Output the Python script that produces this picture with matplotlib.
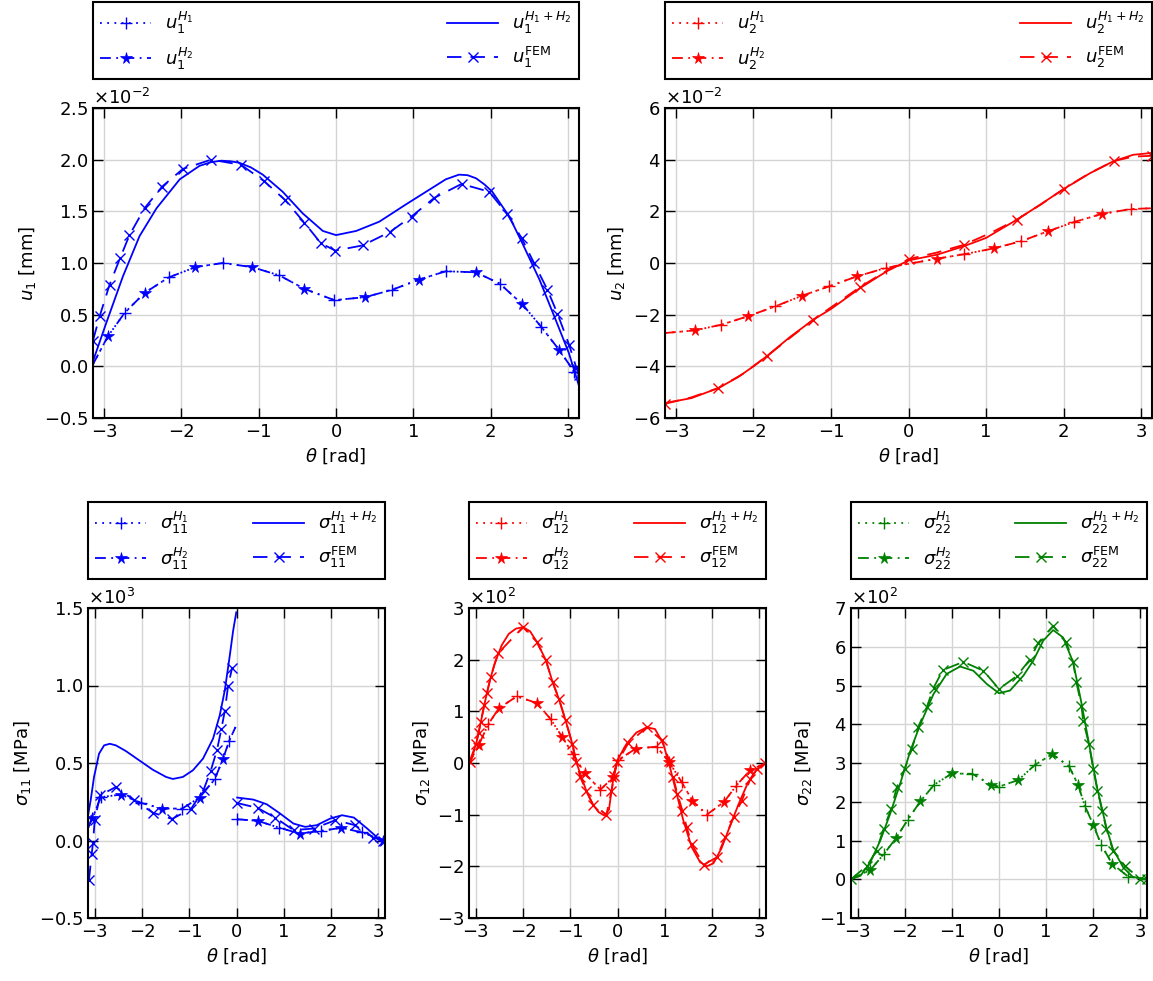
import numpy as np
import matplotlib
matplotlib.use("Agg")
import matplotlib.pyplot as plt
from matplotlib.ticker import ScalarFormatter, MultipleLocator

plt.rcParams['font.family'] = ['DejaVu Sans']
plt.rcParams['mathtext.fontset'] = 'dejavusans'

NAN = np.nan

# ---------------- u1 (x1e-2 mm) ----------------
u1_theta_h = [-3.1416, -2.95, -2.73, -2.475, -2.165, -1.817, -1.464, -1.085, -0.732, -0.409, -0.02,
              0.379, 0.723, 1.076, 1.42, 1.808, 2.118, 2.41, 2.656, 2.884, 3.078, 3.1416]
u1_h1 = [0.02, 0.29, 0.52, 0.71, 0.86, 0.96, 1.0, 0.96, 0.88, 0.75, 0.64,
         0.67, 0.74, 0.84, 0.92, 0.91, 0.80, 0.60, 0.38, 0.16, -0.05, -0.10]
u1_h2 = [0.02, 0.29, 0.52, 0.71, 0.86, 0.96, 1.0, 0.96, 0.88, 0.75, 0.64,
         0.67, 0.74, 0.84, 0.92, 0.91, 0.80, 0.60, 0.38, 0.16, -0.05, -0.10]
u1_theta_s = [-3.1416, -2.97, -2.755, -2.54, -2.32, -2.02, -1.765, -1.62, -1.485, -1.37, -1.25, -1.1,
              -0.947, -0.69, -0.43, -0.17, 0.0, 0.26, 0.56, 0.90, 1.25, 1.42, 1.59, 1.70, 1.81, 1.92,
              2.02, 2.24, 2.41, 2.63, 2.84, 3.01, 3.1416]
u1_sum = [0.05, 0.42, 0.87, 1.26, 1.53, 1.81, 1.94, 1.975, 1.99, 1.985, 1.97, 1.925,
          1.855, 1.69, 1.48, 1.31, 1.27, 1.31, 1.40, 1.565, 1.73, 1.81, 1.855, 1.85, 1.82, 1.76,
          1.69, 1.45, 1.19, 0.84, 0.45, 0.13, -0.19]
u1_theta_f = [-3.1416, -3.056, -2.927, -2.79, -2.67, -2.475, -2.247, -1.98, -1.614, -1.227, -0.926,
              -0.659, -0.409, -0.194, -0.009, 0.344, 0.697, 0.977, 1.27, 1.623, 1.98, 2.217, 2.40,
              2.56, 2.734, 2.863, 3.013, 3.108, 3.1416]
u1_fem = [0.25, 0.484, 0.79, 1.05, 1.27, 1.53, 1.74, 1.91, 2.0, 1.95, 1.79,
          1.61, 1.39, 1.19, 1.12, 1.17, 1.30, 1.45, 1.63, 1.765, 1.69, 1.47, 1.24,
          1.0, 0.74, 0.51, 0.21, -0.016, -0.08]

# ---------------- u2 (x1e-2 mm) ----------------
u2_theta_h = [-3.1416, -2.76, -2.417, -2.07, -1.72, -1.368, -1.02, -0.667, -0.29,
              0.374, 0.718, 1.105, 1.45, 1.80, 2.14, 2.495, 2.873, 3.1416]
u2_h1 = [-2.71, -2.61, -2.39, -2.06, -1.68, -1.26, -0.90, -0.52, -0.19,
         0.17, 0.34, 0.57, 0.84, 1.23, 1.59, 1.90, 2.09, 2.12]
u2_h2 = [-2.71, -2.61, -2.39, -2.06, -1.68, -1.26, -0.90, -0.52, -0.19,
         0.17, 0.34, 0.57, 0.84, 1.23, 1.59, 1.90, 2.09, 2.12]
u2_theta_s = [-3.1416, -2.8, -2.452, -2.2, -2.0, -1.83, -1.527, -1.226, -1.0, -0.624, -0.28, 0.0,
              0.366, 0.71, 1.0, 1.4, 1.7, 2.0, 2.344, 2.645, 2.90, 3.1416]
u2_sum = [-5.42, -5.23, -4.84, -4.42, -4.0, -3.61, -2.86, -2.19, -1.78, -0.97, -0.32, 0.1,
          0.32, 0.645, 0.97, 1.68, 2.26, 2.86, 3.48, 3.94, 4.19, 4.26]
u2_theta_f = [-3.1416, -2.8, -2.452, -2.14, -1.828, -1.53, -1.226, -0.92, -0.624, -0.31, 0.0,
              0.36, 0.71, 1.05, 1.398, 1.70, 2.0, 2.32, 2.645, 2.9, 3.1416]
u2_fem = [-5.45, -5.2, -4.84, -4.3, -3.61, -2.9, -2.19, -1.55, -0.93, -0.35, 0.15,
          0.40, 0.70, 1.15, 1.68, 2.25, 2.86, 3.45, 3.94, 4.12, 4.15]

# ---------------- sigma11 (x1e3 MPa) ----------------
s11_theta_h = [-3.1416, -3.05, -2.87, -2.447, -2.02, -1.58, -1.149, -0.78, -0.461, -0.284, -0.156, -0.021,
               0.0, 0.014, 0.447, 0.908, 1.333, 1.794, 2.213, 2.66, 3.1, 3.1416]
s11_h1 = [0.08, 0.142, 0.28, 0.296, 0.243, 0.206, 0.206, 0.277, 0.395, 0.528, 0.642, 0.732,
          NAN, 0.137, 0.127, 0.082, 0.045, 0.062, 0.082, 0.052, 0.0, 0.0]
s11_h2 = [0.08, 0.142, 0.28, 0.296, 0.243, 0.206, 0.206, 0.277, 0.395, 0.528, 0.642, 0.732,
          NAN, 0.137, 0.127, 0.082, 0.045, 0.062, 0.082, 0.052, 0.0, 0.0]
s11_theta_s = [-3.1416, -3.085, -3.014, -2.908, -2.80, -2.68, -2.553, -2.34, -2.057, -1.773, -1.49,
               -1.348, -1.135, -0.922, -0.709, -0.496, -0.355, -0.248, -0.142, -0.071, -0.005,
               0.0, 0.014, 0.355, 0.638, 0.922, 1.206, 1.454, 1.70, 1.986, 2.234, 2.482, 2.766, 2.979, 3.1416]
s11_sum = [0.16, 0.26, 0.41, 0.56, 0.614, 0.624, 0.614, 0.577, 0.517, 0.457, 0.41,
           0.397, 0.41, 0.453, 0.528, 0.657, 0.807, 0.968, 1.193, 1.354, 1.472,
           NAN, 0.277, 0.264, 0.234, 0.174, 0.109, 0.088, 0.099, 0.142, 0.163, 0.148, 0.077, 0.019, 0.0]
s11_theta_f = [-3.121, -3.064, -3.035, -3.0, -2.886, -2.553, -2.163, -1.773, -1.362, -0.957, -0.695,
               -0.546, -0.411, -0.319, -0.248, -0.177, -0.092, 0.0, 0.014, 0.447, 0.816, 1.206,
               1.631, 2.092, 2.504, 2.894, 3.106]
s11_fem = [-0.255, -0.088, -0.013, 0.131, 0.292, 0.345, 0.26, 0.18, 0.139, 0.206, 0.328,
           0.449, 0.586, 0.721, 0.835, 1.0, 1.114, NAN, 0.242, 0.21, 0.148, 0.067,
           0.077, 0.131, 0.099, 0.019, 0.0]

# ---------------- sigma12 (x1e2 MPa) ----------------
s12_theta_h = [-3.1416, -2.94, -2.73, -2.51, -2.13, -1.706, -1.415, -1.168, -0.94, -0.694, -0.36, -0.092,
               0.0, 0.39, 0.828, 1.097, 1.36, 1.585, 1.89, 2.258, 2.51, 2.81, 3.1416]
s12_h1 = [0.0, 0.34, 0.755, 1.06, 1.29, 1.16, 0.85, 0.50, 0.17, -0.2, -0.516, -0.277,
          0.05, 0.28, 0.316, 0.013, -0.374, -0.73, -1.0, -0.75, -0.44, -0.135, 0.0]
s12_h2 = [0.0, 0.34, 0.755, 1.06, 1.29, 1.16, 0.85, 0.50, 0.17, -0.2, -0.516, -0.277,
          0.05, 0.28, 0.316, 0.013, -0.374, -0.73, -1.0, -0.75, -0.44, -0.135, 0.0]
s12_theta_s = [-3.1416, -2.99, -2.89, -2.80, -2.70, -2.60, -2.45, -2.30, -2.15, -2.0, -1.85, -1.71,
               -1.52, -1.37, -1.24, -1.10, -0.955, -0.87, -0.66, -0.517, -0.40, -0.27, -0.18, -0.127,
               -0.07, 0.0, 0.19, 0.40, 0.616, 0.793, 0.97, 1.11, 1.253, 1.394, 1.571, 1.748, 1.89,
               2.03, 2.20, 2.38, 2.56, 2.75, 2.95, 3.1416]
s12_sum = [0.0, 0.37, 0.80, 1.20, 1.60, 1.92, 2.28, 2.50, 2.60, 2.63, 2.55, 2.35,
           2.0, 1.56, 1.24, 0.83, 0.37, 0.01, -0.54, -0.81, -0.95, -1.02, -0.9, -0.54,
           -0.2, 0.06, 0.37, 0.59, 0.69, 0.658, 0.37, -0.084, -0.6, -1.116, -1.63, -1.92, -2.0,
           -1.94, -1.65, -1.22, -0.80, -0.40, -0.12, 0.0]
s12_theta_f = [-3.11, -2.99, -2.94, -2.89, -2.82, -2.76, -2.68, -2.53, -2.0, -1.71, -1.52, -1.37, -1.24,
               -1.10, -0.955, -0.87, -0.786, -0.66, -0.517, -0.234, -0.127, -0.071, -0.007, 0.226,
               0.616, 0.934, 1.097, 1.18, 1.267, 1.373, 1.465, 1.571, 1.82, 2.10, 2.28, 2.456, 2.63,
               2.81, 2.95, 3.128]
s12_fem = [0.01, 0.37, 0.58, 0.80, 1.12, 1.36, 1.67, 2.12, 2.63, 2.35, 2.0, 1.56, 1.24,
           0.83, 0.37, 0.01, -0.28, -0.54, -0.81, -1.0, -0.54, -0.25, 0.01, 0.38,
           0.69, 0.445, 0.045, -0.28, -0.6, -0.92, -1.245, -1.57, -1.97, -1.826, -1.44, -1.05, -0.73,
           -0.31, -0.116, -0.006]

# ---------------- sigma22 (x1e2 MPa) ----------------
s22_theta_h = [-3.1416, -2.73, -2.45, -2.18, -1.94, -1.67, -1.376, -1.0, -0.565, -0.17, 0.0,
               0.41, 0.762, 1.13, 1.49, 1.68, 1.82, 2.0, 2.17, 2.40, 2.74, 3.1416]
s22_h1 = [0.0, 0.24, 0.64, 1.07, 1.53, 2.01, 2.44, 2.73, 2.72, 2.44, 2.39,
          2.56, 2.95, 3.23, 2.91, 2.43, 1.90, 1.41, 0.89, 0.40, 0.07, 0.0]
s22_h2 = [0.0, 0.24, 0.64, 1.07, 1.53, 2.01, 2.44, 2.73, 2.72, 2.44, 2.39,
          2.56, 2.95, 3.23, 2.91, 2.43, 1.90, 1.41, 0.89, 0.40, 0.07, 0.0]
s22_theta_s = [-3.1416, -2.94, -2.73, -2.52, -2.31, -2.10, -1.88, -1.67, -1.39, -1.11, -0.826, -0.543,
               -0.26, 0.0, 0.233, 0.515, 0.727, 0.94, 1.15, 1.36, 1.574, 1.75, 1.91, 2.0, 2.09, 2.19,
               2.28, 2.42, 2.64, 2.84, 3.1416]
s22_sum = [0.0, 0.09, 0.44, 1.0, 1.69, 2.46, 3.32, 4.0, 4.78, 5.30, 5.49, 5.38,
           5.04, 4.80, 4.87, 5.25, 5.64, 6.16, 6.43, 6.24, 5.6, 4.55, 3.5, 2.9, 2.32, 1.8,
           1.33, 0.78, 0.3, 0.06, 0.0]
s22_theta_f = [-3.1416, -2.80, -2.60, -2.45, -2.29, -2.17, -2.0, -1.85, -1.71, -1.53, -1.39, -1.19,
               -0.755, -0.33, 0.0, 0.374, 0.656, 0.833, 1.15, 1.43, 1.574, 1.644, 1.75, 1.786, 1.91,
               2.0, 2.09, 2.19, 2.28, 2.42, 2.67, 3.0, 3.1416]
s22_fem = [0.0, 0.35, 0.74, 1.30, 1.81, 2.37, 2.85, 3.36, 3.94, 4.45, 4.94, 5.40,
           5.61, 5.38, 4.91, 5.24, 5.67, 6.10, 6.54, 6.11, 5.60, 5.08, 4.48, 4.09, 3.49,
           2.85, 2.29, 1.77, 1.30, 0.74, 0.35, 0.0, 0.0]

# ---------------- figure ----------------
W, H = 1153, 981
fig = plt.figure(figsize=(W / 100, H / 100), dpi=100)

def px_axes(l, t, r, b):
    return fig.add_axes([l / W, 1 - b / H, (r - l) / W, (b - t) / H])

panels = [
    dict(box=(93, 108, 579, 418), th=u1_theta_h, h1=u1_h1, h2=u1_h2, ts=u1_theta_s, s=u1_sum,
         tf=u1_theta_f, f=u1_fem, scale=1e-2, color='#0000ff', ylim=(-0.5, 2.5), ystep=0.5,
         sym='u_1', ylabel=r'$u_1$ [mm]', h1m=list(range(2, 21, 2)), h2m=list(range(1, 20, 2)), fm=1),
    dict(box=(665, 108, 1152, 418), th=u2_theta_h, h1=u2_h1, h2=u2_h2, ts=u2_theta_s, s=u2_sum,
         tf=u2_theta_f, f=u2_fem, scale=1e-2, color='#ff0000', ylim=(-6, 6), ystep=2,
         sym='u_2', ylabel=r'$u_2$ [mm]', h1m=list(range(2, 17, 2)), h2m=list(range(1, 16, 2)), fm=2),
    dict(box=(88, 608, 385, 918), th=s11_theta_h, h1=s11_h1, h2=s11_h2, ts=s11_theta_s, s=s11_sum,
         tf=s11_theta_f, f=s11_fem, scale=1e3, color='#0000ff', ylim=(-0.5, 1.5), ystep=0.5,
         sym=r'\sigma_{11}', ylabel=r'$\sigma_{11}$ [MPa]',
         h1m=[2, 4, 6, 8, 10, 13, 15, 17, 19], h2m=[1, 3, 5, 7, 9, 14, 16, 18, 20], fm=1),
    dict(box=(469, 608, 766, 918), th=s12_theta_h, h1=s12_h1, h2=s12_h2, ts=s12_theta_s, s=s12_sum,
         tf=s12_theta_f, f=s12_fem, scale=1e2, color='#ff0000', ylim=(-3, 3), ystep=1,
         sym=r'\sigma_{12}', ylabel=r'$\sigma_{12}$ [MPa]',
         h1m=list(range(2, 21, 2)), h2m=list(range(1, 22, 2)), fm=1),
    dict(box=(851, 608, 1147, 918), th=s22_theta_h, h1=s22_h1, h2=s22_h2, ts=s22_theta_s, s=s22_sum,
         tf=s22_theta_f, f=s22_fem, scale=1e2, color='#008000', ylim=(-1, 7), ystep=1,
         sym=r'\sigma_{22}', ylabel=r'$\sigma_{22}$ [MPa]',
         h1m=list(range(2, 21, 2)), h2m=list(range(1, 20, 2)), fm=1),
]

FS = 13
for p in panels:
    ax = px_axes(*p['box'])
    c = p['color']
    k = p['scale']
    th = np.array(p['th'])
    ax.plot(th, np.array(p['h1']) * k, linestyle=(0, (1, 3)), color=c, lw=1.3, marker='+', ms=8,
            mew=1.0, markevery=p['h1m'], label=r'$%s^{H_1}$' % p['sym'])
    ax.plot(th, np.array(p['h2']) * k, linestyle=(0, (6, 3, 1, 3)), color=c, lw=1.3, marker='*', ms=8.5,
            mew=0.5, markevery=p['h2m'], label=r'$%s^{H_2}$' % p['sym'])
    ax.plot(np.array(p['ts']), np.array(p['s']) * k, linestyle='-', color=c, lw=1.3,
            label=r'$%s^{H_1+H_2}$' % p['sym'])
    ax.plot(np.array(p['tf']), np.array(p['f']) * k, linestyle=(0, (8, 5)), color=c, lw=1.3,
            marker='x', ms=7, mew=1.0, markevery=p['fm'], label=r'$%s^{\mathrm{FEM}}$' % p['sym'])

    ax.set_xlim(-np.pi, np.pi)
    ax.set_ylim(p['ylim'][0] * k, p['ylim'][1] * k)
    ax.xaxis.set_major_locator(MultipleLocator(1))
    ax.yaxis.set_major_locator(MultipleLocator(p['ystep'] * k))
    fmt = ScalarFormatter(useMathText=True)
    fmt.set_powerlimits((0, 0))
    ax.yaxis.set_major_formatter(fmt)
    ax.yaxis.get_offset_text().set_fontsize(FS)
    ax.grid(True, color='#d4d4d4', lw=1.0)
    ax.set_axisbelow(True)
    ax.tick_params(direction='in', top=True, right=True, length=7, width=1.0, labelsize=FS)
    for sp in ax.spines.values():
        sp.set_linewidth(1.5)
    ax.set_xlabel(r'$\theta$ [rad]', fontsize=FS)
    ax.set_ylabel(p['ylabel'], fontsize=FS)
    h_ax = p['box'][3] - p['box'][1]
    leg = ax.legend(loc='lower left', bbox_to_anchor=(0, 1 + 29 / h_ax, 1, 74 / h_ax), mode='expand',
                    ncol=2, borderaxespad=0, fancybox=False, fontsize=FS, handlelength=2.8,
                    edgecolor='black', framealpha=1)
    leg.get_frame().set_linewidth(1.5)

fig.savefig('out.png', dpi=100)
